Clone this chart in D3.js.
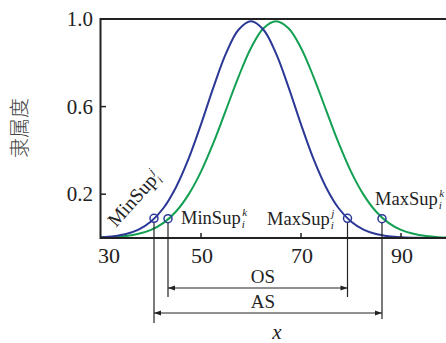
<!DOCTYPE html>
<html><head><meta charset="utf-8">
<script src="https://cdn.jsdelivr.net/npm/d3@7"></script>
<style>body{margin:0;background:#fff}svg{display:block}</style>
</head><body>
<script>
// ---- data ----
const xSamples   = [30,32.5,35,37.5,40,42.5,45,47.5,50,52.5,55,57.5,60,62.5,65,67.5,70,72.5,75,77.5,80,82.5,85,87.5,90,92.5,95,97.5,100];
const blueValues = [0.003,0.008,0.018,0.038,0.075,0.137,0.232,0.361,0.519,0.689,0.843,0.951,0.99,0.951,0.843,0.689,0.519,0.361,0.232,0.137,0.075,0.038,0.018,0.008,0.003,0.001,0,0,0];
const greenValues= [0.002,0.004,0.009,0.019,0.037,0.069,0.121,0.198,0.303,0.435,0.585,0.736,0.868,0.958,0.99,0.958,0.868,0.736,0.585,0.435,0.303,0.198,0.121,0.069,0.037,0.019,0.009,0.004,0.002];
const xTicks = [30,50,70,90];
const yTicks = [0.2,0.6,1.0];
const supNames  = ["MinSupJ","MinSupK","MaxSupJ","MaxSupK"];
const supX      = [40.6,43.4,79.3,86.2];
const supLevel  = [0.09,0.088,0.09,0.088];
const spanNames = ["OS","AS"];
const spanFrom  = [43.4,40.6];
const spanTo    = [79.3,86.2];

const W=446,H=343;
const BLUE="#2b3896", GREEN="#13a052", INK="#222";
const x = d3.scaleLinear().domain([30,99]).range([101,446]);
const y = d3.scaleLinear().domain([0,1]).range([238,19]);

const svg = d3.select("body").append("svg").attr("width",W).attr("height",H);
const defs = svg.append("defs");
defs.append("clipPath").attr("id","plot").append("rect").attr("x",100).attr("y",0).attr("width",346).attr("height",239);
["s","e"].forEach(k=>{
  defs.append("marker").attr("id","arr"+k).attr("viewBox","0 0 10 10")
    .attr("refX",k==="e"?10:0).attr("refY",5).attr("markerWidth",9).attr("markerHeight",7)
    .attr("markerUnits","userSpaceOnUse").attr("orient","auto")
    .append("path").attr("d",k==="e"?"M0,1.5L10,5L0,8.5Z":"M10,1.5L0,5L10,8.5Z").attr("fill",INK);
});

// curves
const line = d3.line().x((d,i)=>x(xSamples[i])).y(d=>y(d)).curve(d3.curveCatmullRom);
const g = svg.append("g").attr("clip-path","url(#plot)");
g.append("path").attr("d",line(greenValues)).attr("fill","none").attr("stroke",GREEN).attr("stroke-width",2);
g.append("path").attr("d",line(blueValues)).attr("fill","none").attr("stroke",BLUE).attr("stroke-width",2);

// frame
svg.append("path").attr("d",`M446,${y(1)}H${x(30)-0.5}V${y(0)}H446`).attr("fill","none").attr("stroke",INK).attr("stroke-width",2);

// y ticks
const serif = "'Liberation Serif','Times New Roman',serif";
yTicks.forEach(t=>{
  if(t<1) svg.append("line").attr("x1",100).attr("x2",106).attr("y1",y(t)).attr("y2",y(t)).attr("stroke",INK).attr("stroke-width",1.5);
  svg.append("text").attr("x",93).attr("y",y(t)+7).attr("text-anchor","end")
    .attr("font-family",serif).attr("font-size",21).attr("fill",INK).text(t.toFixed(1));
});
// x ticks
xTicks.forEach(t=>{
  if(t>30) svg.append("line").attr("x1",x(t)).attr("x2",x(t)).attr("y1",y(0)).attr("y2",y(0)-5).attr("stroke",INK).attr("stroke-width",1.5);
  svg.append("text").attr("x",t===30?x(t)+8:x(t)+1).attr("y",263).attr("text-anchor","middle")
    .attr("font-family",serif).attr("font-size",22).attr("fill",INK).text(t);
});

// y axis title
svg.append("text").attr("transform","translate(27,128) rotate(-90)").attr("text-anchor","middle")
  .attr("font-family","'Noto Sans CJK SC',sans-serif").attr("font-size",20).attr("font-weight",300)
  .attr("fill","#444").text("隶属度");

// vertical drop lines
const dropEnd = [323,297,297,319];
supX.forEach((v,i)=>{
  svg.append("line").attr("x1",x(v)).attr("x2",x(v)).attr("y1",y(supLevel[i])+4).attr("y2",dropEnd[i])
    .attr("stroke",INK).attr("stroke-width",1.2);
});
// circles
supX.forEach((v,i)=>{
  svg.append("circle").attr("cx",x(v)).attr("cy",y(supLevel[i])).attr("r",4)
    .attr("fill","none").attr("stroke",BLUE).attr("stroke-width",1.5);
});

// span arrows
const spanY=[288,313], spanTxtY=[283,308];
spanNames.forEach((n,i)=>{
  svg.append("line").attr("x1",x(spanFrom[i])).attr("x2",x(spanTo[i])).attr("y1",spanY[i]).attr("y2",spanY[i])
    .attr("stroke",INK).attr("stroke-width",1.2).attr("marker-start","url(#arrs)").attr("marker-end","url(#arre)");
  svg.append("text").attr("x",263).attr("y",spanTxtY[i]).attr("text-anchor","middle")
    .attr("font-family",serif).attr("font-size",19).attr("fill",INK).text(n);
});
// x title
svg.append("text").attr("x",277).attr("y",339).attr("text-anchor","middle")
  .attr("font-family",serif).attr("font-style","italic").attr("font-size",21).attr("fill",INK).text("x");

// sup labels
function addLabel(base,tx,ty,rot,sup,fs){
  const gg = svg.append("g").attr("transform",`translate(${tx},${ty}) rotate(${rot})`);
  const m = gg.append("text").attr("font-family",serif).attr("font-size",fs).attr("fill",INK).text(base);
  const L = m.node().getComputedTextLength();
  gg.append("text").attr("x",L+1.5).attr("y",-8).attr("font-family",serif).attr("font-style","italic").attr("font-size",11).attr("fill",INK).text(sup);
  gg.append("text").attr("x",L+1).attr("y",4).attr("font-family",serif).attr("font-style","italic").attr("font-size",11).attr("fill",INK).text("i");
}
addLabel("MinSup",116,228,-48,"j",19.5);
addLabel("MinSup",181,224,0,"k",18.5);
addLabel("MaxSup",267,225,0,"j",18.5);
addLabel("MaxSup",375,205,0,"k",18.5);
</script>
</body></html>
